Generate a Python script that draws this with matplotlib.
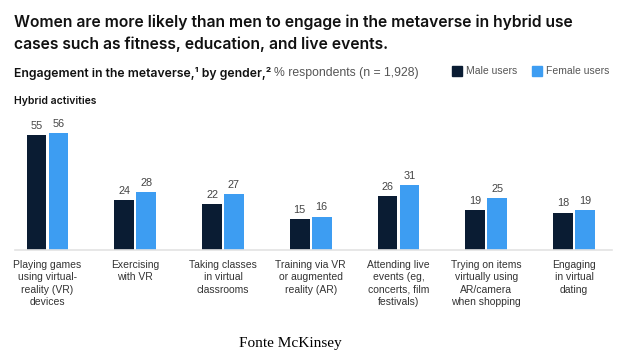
import numpy as np
import matplotlib
matplotlib.use("Agg")
import matplotlib.pyplot as plt

# data
categories = [
    "Playing games\nusing virtual-\nreality (VR)\ndevices",
    "Exercising\nwith VR",
    "Taking classes\nin virtual\nclassrooms",
    "Training via VR\nor augmented\nreality (AR)",
    "Attending live\nevents (eg,\nconcerts, film\nfestivals)",
    "Trying on items\nvirtually using\nAR/camera\nwhen shopping",
    "Engaging\nin virtual\ndating",
]
male_users = [55, 24, 22, 15, 26, 19, 18]
female_users = [56, 28, 27, 16, 31, 25, 19]

MALE = "#0a1c33"
FEMALE = "#3d9df2"
DARK = "#111111"
GREY = "#555555"

plt.rcParams['font.family'] = ['Liberation Sans', 'DejaVu Sans']

W, H = 620, 362
fig = plt.figure(figsize=(W / 100, H / 100), dpi=100)

def px(x, y):
    """pixel (from top-left) -> figure fraction"""
    return x / W, 1 - y / H

# axes: baseline at y=250 px, spans x 15..612 px
ax_left, ax_right, ax_top, ax_bottom = 15, 612, 125, 250
ax = fig.add_axes([ax_left / W, 1 - ax_bottom / H,
                   (ax_right - ax_left) / W, (ax_bottom - ax_top) / H])

x = np.arange(len(categories))
bw = 0.225
off = 0.125
b1 = ax.bar(x - off, male_users, bw, color=MALE)
b2 = ax.bar(x + off, female_users, bw, color=FEMALE)

for bars, vals in ((b1, male_users), (b2, female_users)):
    for b, v in zip(bars, vals):
        ax.annotate(str(v), (b.get_x() + b.get_width() / 2, v),
                    xytext=(0, 3), textcoords="offset points",
                    ha="center", va="bottom", fontsize=7.8, color="#444444")

ax.set_xlim(-0.37, 6.433)
ax.set_ylim(0, 60)
for s in ("top", "right", "left"):
    ax.spines[s].set_visible(False)
ax.spines["bottom"].set_color("#e3e3e3")
ax.spines["bottom"].set_linewidth(1.2)
ax.set_yticks([])
ax.set_xticks(x)
ax.set_xticklabels(categories, fontsize=7.5, color="#333333", linespacing=1.3)
ax.tick_params(axis="x", length=0, pad=7)

MED = ["Inter", "Liberation Sans", "DejaVu Sans"]

# title
fig.text(*px(14, 33), "Women are more likely than men to engage in the metaverse in hybrid use\n"
         "cases such as fitness, education, and live events.",
         fontsize=11.3, fontweight="semibold", family=MED, color=DARK,
         va="center", ha="left", linespacing=1.5)

# subtitle in two styles
t1 = fig.text(*px(14, 73), "Engagement in the metaverse,\u00b9 by gender,\u00b2",
              fontsize=8.8, fontweight="semibold", family=MED, color=DARK,
              va="center", ha="left")
fig.canvas.draw()
bb = t1.get_window_extent()
fig.text(bb.x1 / W + 3 / W, 1 - 73 / H, "% respondents (n = 1,928)",
         fontsize=8.8, color=GREY, va="center", ha="left")

# legend
for sx, label, col in ((452, "Male users", MALE), (532, "Female users", FEMALE)):
    fig.patches.append(plt.Rectangle(px(sx, 76), 10 / W, 10 / H, color=col,
                                     transform=fig.transFigure, figure=fig))
    fig.text(*px(sx + 14, 71), label, fontsize=7.5, color=GREY, va="center", ha="left")

fig.text(*px(14, 101), "Hybrid activities", fontsize=7.5, fontweight="semibold",
         family=MED, color=DARK, va="center", ha="left")

fig.text(*px(290, 344), "Fonte McKinsey", fontsize=11, color="black",
         family=["Liberation Serif", "DejaVu Serif"], va="center", ha="center")

fig.savefig("out.png", dpi=100, facecolor="white")
